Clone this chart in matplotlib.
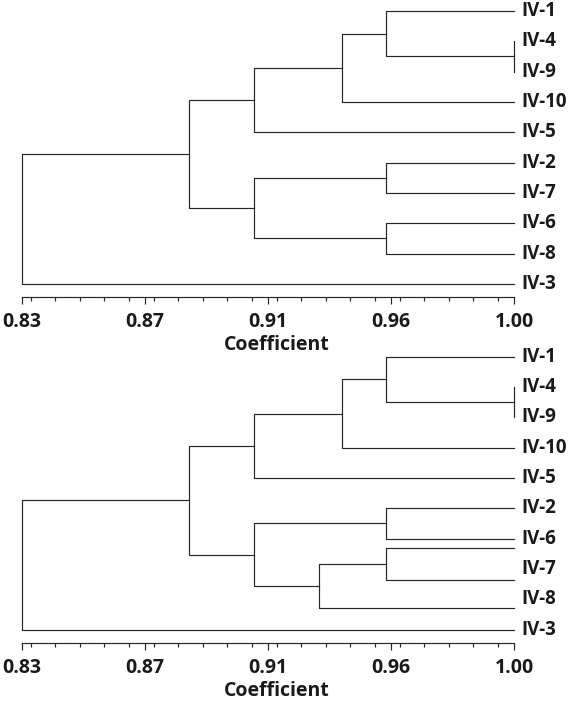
import matplotlib.pyplot as plt
from matplotlib.ticker import FixedLocator, MultipleLocator

plt.rcParams["font.family"] = ["Open Sans", "DejaVu Sans"]

# coefficient axis
x_min, x_max = 0.83, 1.00
tick_values = [0.83, 0.8725, 0.915, 0.9575, 1.00]
tick_labels = ["0.83", "0.87", "0.91", "0.96", "1.00"]

# upper dendrogram: leaves top to bottom, merges as (left, right, coefficient)
top_leaves = ["IV-1", "IV-4", "IV-9", "IV-10", "IV-5", "IV-2", "IV-7", "IV-6", "IV-8", "IV-3"]
top_rows = [0, 1, 2, 3, 4, 5, 6, 7, 8, 9]
top_left = [1, 0, 11, 12, 5, 7, 14, 13, 17]
top_right = [2, 10, 3, 4, 6, 8, 15, 16, 9]
top_height = [1.00, 0.9557, 0.9405, 0.9102, 0.9557, 0.9557, 0.9102, 0.8877, 0.83]

# lower dendrogram (has one unlabelled branch in the original)
bot_leaves = ["IV-1", "IV-4", "IV-9", "IV-10", "IV-5", "IV-2", "IV-6", "", "IV-7", "IV-8", "IV-3"]
bot_rows = [0, 1, 2, 3, 4, 5, 6, 6.31, 7.36, 8.27, 9]
bot_label_rows = [0, 1, 2, 3, 4, 5, 6, None, 7, 8, 9]
bot_left = [1, 0, 12, 13, 5, 7, 16, 15, 14, 19]
bot_right = [2, 11, 3, 4, 6, 8, 9, 17, 18, 10]
bot_height = [1.00, 0.9557, 0.9405, 0.9102, 0.9557, 0.9557, 0.9326, 0.9102, 0.8877, 0.83]

line_color = "#262626"
text_color = "#1a1a1a"


def draw_tree(ax, leaves, rows, label_rows, left, right, height):
    n = len(leaves)
    xs = [x_max] * n
    ys = list(rows)
    for a, b, h in zip(left, right, height):
        ax.plot([xs[a], h, h, xs[b]], [ys[a], ys[a], ys[b], ys[b]],
                color=line_color, lw=0.85, clip_on=False)
        xs.append(h)
        ys.append((ys[a] + ys[b]) / 2)
    for name, r in zip(leaves, label_rows):
        if r is None:
            continue
        ax.text(x_max + 0.0026, r, name, ha="left", va="center",
                fontsize=13.5, fontweight="bold", color=text_color, clip_on=False)

    ax.set_xlim(x_min, x_max)
    ax.set_ylim(9.43, -0.36)
    ax.patch.set_visible(False)
    for s in ["top", "left", "right"]:
        ax.spines[s].set_visible(False)
    ax.spines["bottom"].set_color(line_color)
    ax.spines["bottom"].set_linewidth(0.85)
    ax.set_yticks([])
    ax.xaxis.set_major_locator(FixedLocator(tick_values))
    ax.set_xticklabels(tick_labels)
    ax.xaxis.set_minor_locator(MultipleLocator((x_max - x_min) / 20))
    ax.tick_params(axis="x", which="major", length=5, width=0.85, color=line_color,
                   pad=6, labelsize=14)
    ax.tick_params(axis="x", which="minor", length=3, width=0.85, color=line_color)
    for lab in ax.get_xticklabels():
        lab.set_fontweight("bold")
        lab.set_color(text_color)
    ax.set_xlabel("Coefficient", fontsize=14, fontweight="bold", color=text_color)
    ax.xaxis.label.set_verticalalignment("center")
    ax.xaxis.set_label_coords(0.518, -48 / 297)


fig = plt.figure(figsize=(5.75, 7.05), dpi=100)
ax1 = fig.add_axes([22 / 575, 408 / 705, 492 / 575, 297 / 705])
ax2 = fig.add_axes([22 / 575, 62.3 / 705, 492 / 575, 297 / 705])

draw_tree(ax1, top_leaves, top_rows, top_rows, top_left, top_right, top_height)
draw_tree(ax2, bot_leaves, bot_rows, bot_label_rows, bot_left, bot_right, bot_height)

fig.savefig("out.png", dpi=100)
